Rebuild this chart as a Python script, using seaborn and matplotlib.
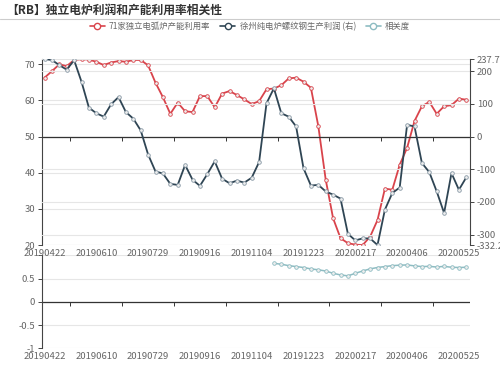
import numpy as np
import pandas as pd
import matplotlib
matplotlib.use('Agg')
import matplotlib.pyplot as plt
import seaborn as sns
from matplotlib.lines import Line2D

sns.set_style('white')
plt.rcParams['font.family'] = ['Noto Sans CJK SC', 'DejaVu Sans']
plt.rcParams['axes.unicode_minus'] = False

# 周度日期（春节周缺失）
dates = pd.date_range('2019-04-22', '2020-06-01', freq='7D')
dates = dates[dates != pd.Timestamp('2020-01-27')]
tick_labels = ['20190422', '20190610', '20190729', '20190916', '20191104',
               '20191223', '20200217', '20200406', '20200525']

# 71家独立电弧炉产能利用率 (%)
util = [66.3, 68.1, 70.0, 69.5, 71.2, 71.4, 71.3, 70.7, 69.8, 70.5,
        70.9, 70.7, 71.2, 71.2, 69.7, 64.9, 60.9, 56.3, 59.4, 57.0,
        56.8, 61.2, 61.2, 58.1, 61.9, 62.6, 61.5, 60.3, 59.0, 59.8,
        63.1, 63.3, 64.2, 66.1, 66.3, 65.2, 63.5, 52.9, 38.1, 27.4,
        21.9, 20.5, 20.1, 20.0, 22.3, 26.9, 35.6, 35.3, 42.2, 46.9,
        54.3, 58.4, 59.6, 56.3, 58.4, 58.7, 60.5, 60.2]

# 徐州纯电炉螺纹钢生产利润 (元/吨, 右轴)
profit = [237.7, 234.6, 219, 205, 234, 168, 88.7, 71.5, 61.2, 99,
          121, 75, 55, 19, -55, -107, -113, -145, -148, -87,
          -132, -151, -115, -76, -129, -143, -135, -141, -126, -78,
          102, 148, 71.5, 61, 31, -97, -150, -148, -168, -178,
          -190, -298, -318, -312, -312, -332.2, -224, -173, -156, 36,
          31, -81, -109, -168, -234, -112, -163, -125]

# 相关度（自第32周起）
corr = [np.nan] * 31 + [0.83, 0.81, 0.78, 0.76, 0.74, 0.71, 0.69, 0.665, 0.615,
                        0.58, 0.56, 0.615, 0.665, 0.71, 0.74, 0.76, 0.78, 0.79,
                        0.795, 0.775, 0.76, 0.765, 0.75, 0.765, 0.745, 0.74, 0.745]

df = pd.DataFrame({
    'idx': np.arange(len(dates)),
    'date': dates.strftime('%Y%m%d'),
    'util': util,
    'profit': profit,
    'corr': corr,
})

c_red = '#d9434b'
c_dark = '#2f4554'
c_teal = '#8dbcc2'
grid_c = '#e6e6e6'
txt_c = '#666666'
axis_c = '#444444'

fig = plt.figure(figsize=(5, 3.67), dpi=100)
ax = fig.add_axes([0.084, 0.3324, 0.856, 0.5068])
ax2 = ax.twinx()
axb = fig.add_axes([0.084, 0.051, 0.856, 0.253])

mk = dict(marker='o', markersize=2.6, markerfacecolor='#eeeeee', markeredgewidth=0.6)
sns.lineplot(data=df, x='idx', y='util', ax=ax, color=c_red, lw=1.3,
             markeredgecolor=c_red, zorder=3, **mk)
sns.lineplot(data=df, x='idx', y='profit', ax=ax2, color=c_dark, lw=1.3,
             markeredgecolor='#8899a6', zorder=3, **mk)
sns.lineplot(data=df, x='idx', y='corr', ax=axb, color=c_teal, lw=1.1,
             markeredgecolor=c_teal, zorder=3, **mk)

xmin, xmax = -0.34, 57.5
lo, hi = -332.2, 237.7
ax.set_ylim(20, 20 + 30 / (-lo / (hi - lo)))
ax2.set_ylim(lo, hi)
axb.set_ylim(-1, 1)

label_pos = np.arange(0, 57, 7)
for a in (ax, ax2, axb):
    a.set_xlim(xmin, xmax)
    a.set_xlabel('')
    a.set_ylabel('')
    for s in a.spines.values():
        s.set_visible(False)

ax.set_xticks(label_pos)
ax.set_xticklabels(tick_labels)
axb.set_xticks(label_pos)
axb.set_xticklabels(tick_labels)

ax.set_yticks([20, 30, 40, 50, 60, 70])
ax2.set_yticks([-332.2, -300, -200, -100, 0, 100, 200, 237.7])
ax2.set_yticklabels(['-332.2', '-300', '-200', '-100', '0', '100', '200', '237.7'])
axb.set_yticks([-1, -0.5, 0, 0.5, 1])
axb.set_yticklabels(['-1', '-0.5', '0', '0.5', ''])

for a in (ax, ax2, axb):
    a.tick_params(axis='x', length=0, labelsize=6.8, labelcolor=txt_c, pad=3)
    a.tick_params(axis='y', length=3, width=0.7, color=axis_c,
                  labelsize=6.8, labelcolor=txt_c, pad=2)
    a.grid(axis='y', color=grid_c, lw=0.8)
    a.grid(axis='x', visible=False)
ax.tick_params(axis='y', left=True)
axb.tick_params(axis='y', left=True)
ax2.tick_params(axis='y', right=True)
ax2.tick_params(axis='x', labelbottom=False)
ax.spines['left'].set_visible(True)
axb.spines['left'].set_visible(True)
ax2.spines['right'].set_visible(True)
for s in (ax.spines['left'], axb.spines['left'], ax2.spines['right']):
    s.set_color(axis_c)
    s.set_linewidth(0.8)
ax.set_zorder(1)
ax.patch.set_visible(False)
ax2.set_zorder(2)

# 零轴及刻度
mid_ticks = np.arange(3.5, 57, 7)
for a, loc in ((ax2, -lo / (hi - lo)), (axb, 0.5)):
    a.axhline(0, color='#333333', lw=0.9, zorder=2)
    sec = a.secondary_xaxis(loc)
    sec.set_xticks(mid_ticks)
    sec.tick_params(axis='x', top=True, bottom=False, direction='in', length=3,
                    width=0.7, color='#333333', labeltop=False, labelbottom=False)
    for s in sec.spines.values():
        s.set_visible(False)

fig.text(0.012, 0.972, '【RB】独立电炉利润和产能利用率相关性', fontsize=8.5,
         fontweight='bold', color='#333333', va='center', ha='left')
fig.add_artist(Line2D([0, 1], [0.948, 0.948], transform=fig.transFigure,
                      color='#cccccc', lw=0.8))

handles = [
    Line2D([], [], color=c_red, lw=1.2, marker='o', markersize=4.5,
           markerfacecolor='white', markeredgecolor=c_red),
    Line2D([], [], color=c_dark, lw=1.2, marker='o', markersize=4.5,
           markerfacecolor='white', markeredgecolor=c_dark),
    Line2D([], [], color=c_teal, lw=1.2, marker='o', markersize=4.5,
           markerfacecolor='white', markeredgecolor=c_teal),
]
fig.legend(handles, ['71家独立电弧炉产能利用率', '徐州纯电炉螺纹钢生产利润 (右)', '相关度'],
           loc='center', bbox_to_anchor=(0.5, 0.928), ncol=3, frameon=False,
           fontsize=6, labelcolor=txt_c, handlelength=1.8, columnspacing=1.2,
           handletextpad=0.5, numpoints=1)

fig.savefig('out.png', dpi=100)
